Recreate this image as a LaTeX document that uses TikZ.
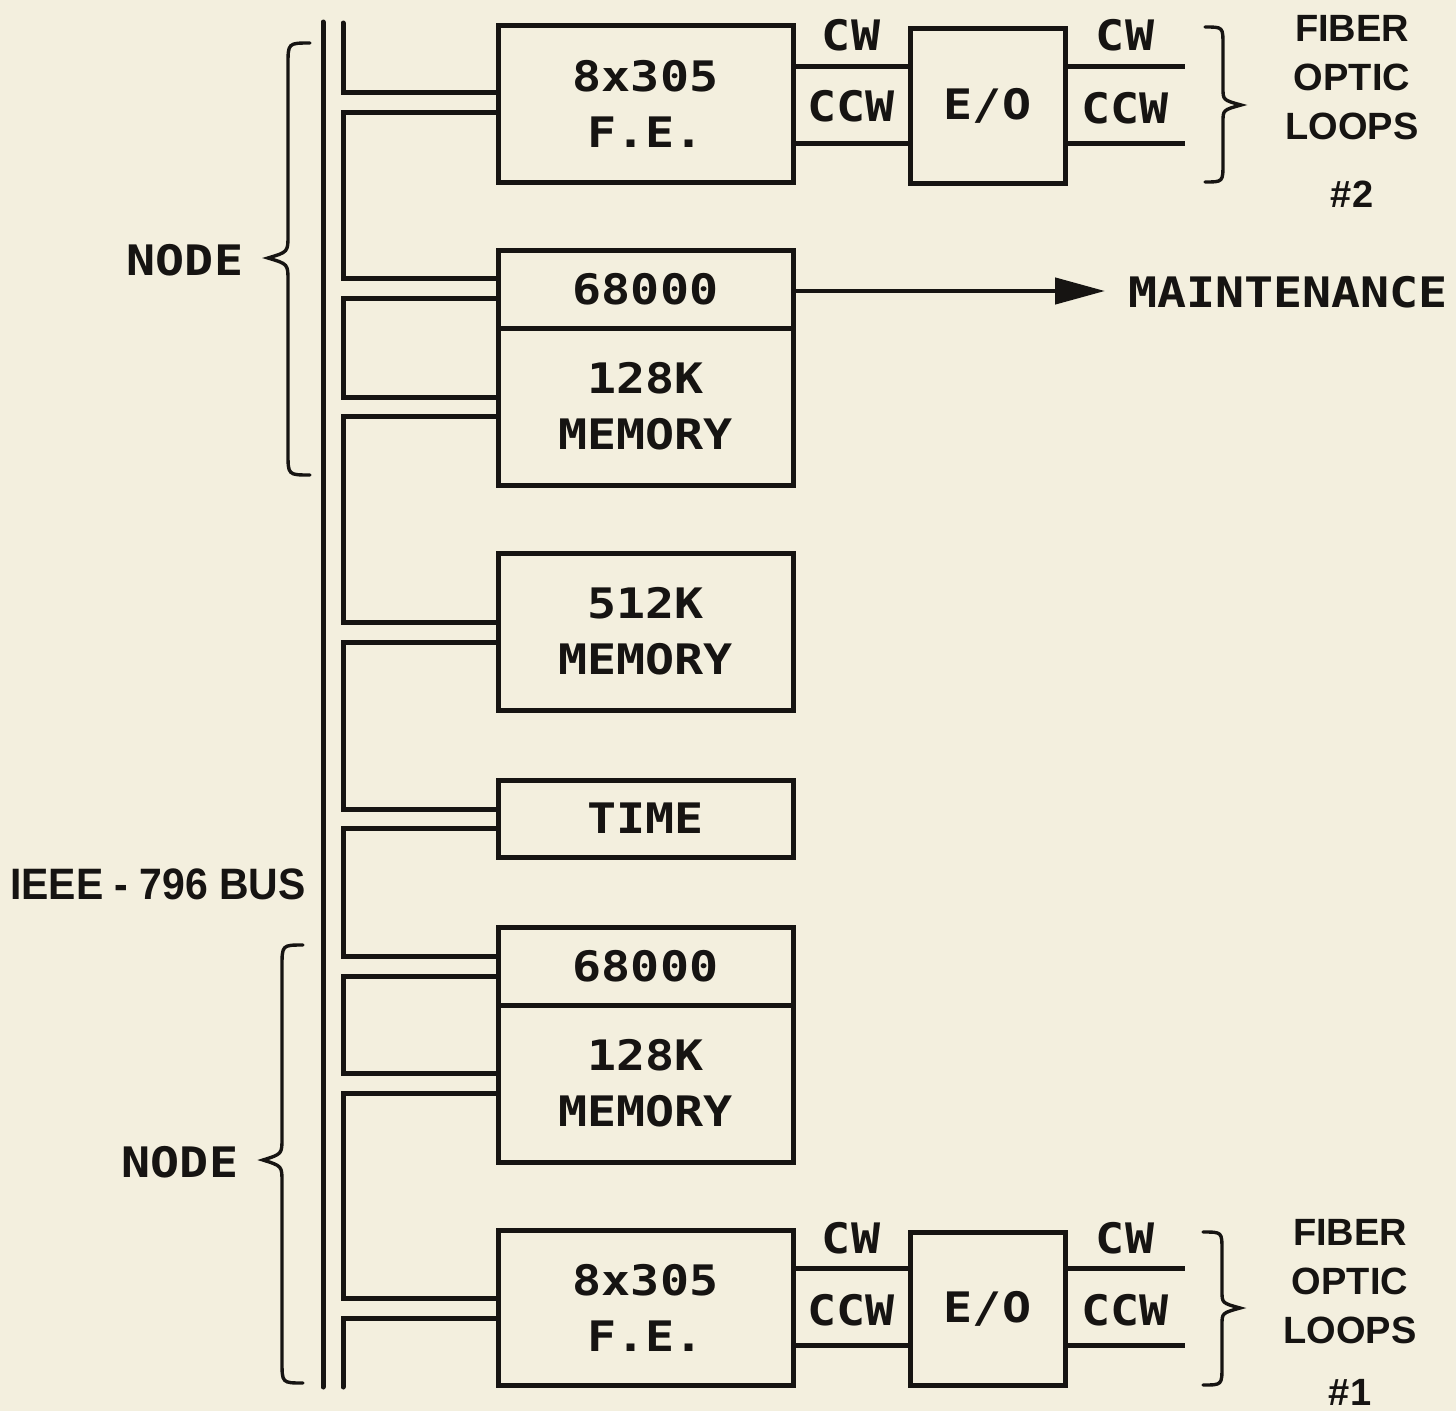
\documentclass[tikz,border=0pt]{standalone}
\usepackage{fontspec}
\setmainfont{Liberation Sans}
\newfontfamily\monof{DejaVu Sans Mono}[FakeStretch=1.15]
\usetikzlibrary{arrows.meta}
\definecolor{paper}{RGB}{243,239,222}
\definecolor{ink}{RGB}{22,20,18}
\newcommand\dfont{\monof\fontsize{42}{56}\selectfont\bfseries}
\newcommand\sfontx{\fontsize{38}{49}\selectfont\bfseries}
\begin{document}
\begin{tikzpicture}[x=1pt,y=-1pt,
  box/.style={draw=ink, line width=5pt, minimum width=295pt, inner sep=0pt, align=center, font=\dfont, text=ink},
  wire/.style={draw=ink, line width=5pt},
  brc/.style={draw=ink, line width=3.4pt, line cap=round},
  lbl/.style={text=ink, font=\dfont, inner sep=0pt, align=center},
  slbl/.style={text=ink, font=\sfontx, inner sep=0pt, align=center}]
\fill[paper] (0,0) rectangle (1456,1411);
\useasboundingbox (0,0) rectangle (1456,1411);

% boxes
\node[box, minimum height=157pt] (fe2) at (645.5,103.5) {8x305\\F.E.};
\node[box, minimum height=78pt] (cpu2) at (645.5,289) {68000};
\node[box, minimum height=157pt] (mem2) at (645.5,406.5) {128K\\MEMORY};
\node[box, minimum height=157pt] (m512) at (645.5,631.5) {512K\\MEMORY};
\node[box, minimum height=77pt] (time) at (645.5,818.5) {TIME};
\node[box, minimum height=78pt] (cpu1) at (645.5,966) {68000};
\node[box, minimum height=157pt] (mem1) at (645.5,1083.5) {128K\\MEMORY};
\node[box, minimum height=155pt] (fe1) at (645.5,1307.5) {8x305\\F.E.};
\node[box, minimum width=155pt, minimum height=155pt] (eo2) at (987.5,105.5) {E/O};
\node[box, minimum width=155pt, minimum height=153pt] (eo1) at (987.5,1308.5) {E/O};

% bus
\coordinate (busT) at (323,22);
\coordinate (busB) at (323,1387);
\draw[wire, line cap=round] (busT) -- (busB);
\coordinate (combT) at (343,23);
\coordinate (combB) at (343,1387);
\draw[wire, line cap=round] (combT) |- (fe2.west |- 0,92);
\foreach \p/\a/\q/\b in {fe2/112/cpu2/278, cpu2/298/mem2/397, mem2/416/m512/622, m512/642/time/809, time/828/cpu1/956, cpu1/976/mem1/1073, mem1/1093/fe1/1298}
  \draw[wire] (\p.west |- 0,\a) -| (343,\b) -- (\q.west |- 0,\b);
\draw[wire, line cap=round] (fe1.west |- 0,1318) -| (combB);

% fiber links top
\coordinate (t2a) at (1185,66);
\coordinate (t2b) at (1185,143);
\draw[wire] (fe2.east |- t2a) -- (eo2.west |- t2a);
\draw[wire] (fe2.east |- t2b) -- (eo2.west |- t2b);
\draw[wire] (eo2.east |- t2a) -- (t2a);
\draw[wire] (eo2.east |- t2b) -- (t2b);
\node[lbl] (cwl2) at (851,35) {CW};
\node[lbl] (ccwl2) at (851,106) {CCW};
\node[lbl] (cwr2) at (1125,35) {CW};
\node[lbl] (ccwr2) at (1125,108) {CCW};

% fiber links bottom
\coordinate (t1a) at (1185,1268);
\coordinate (t1b) at (1185,1345);
\draw[wire] (fe1.east |- t1a) -- (eo1.west |- t1a);
\draw[wire] (fe1.east |- t1b) -- (eo1.west |- t1b);
\draw[wire] (eo1.east |- t1a) -- (t1a);
\draw[wire] (eo1.east |- t1b) -- (t1b);
\node[lbl] (cwl1) at (851,1238) {CW};
\node[lbl] (ccwl1) at (851,1310) {CCW};
\node[lbl] (cwr1) at (1125,1238) {CW};
\node[lbl] (ccwr1) at (1125,1310) {CCW};

% right braces
\draw[brc] (1205,27) .. controls (1223,27) .. (1223,45) -- (1223,88) .. controls (1223,100) .. (1241,105) .. controls (1223,110) .. (1223,122) -- (1223,163) .. controls (1223,182) .. (1205,182);
\draw[brc] (1203,1232) .. controls (1222,1232) .. (1222,1250) -- (1222,1291) .. controls (1222,1303) .. (1240,1308) .. controls (1222,1313) .. (1222,1325) -- (1222,1366) .. controls (1222,1385) .. (1203,1385);
\node[slbl] (fol2) at (1352,78) {FIBER\\OPTIC\\LOOPS};
\node[slbl] (n2) at (1352,194) {\#2};
\node[slbl] (fol1) at (1350,1282) {FIBER\\OPTIC\\LOOPS};
\node[slbl] (n1) at (1350,1392) {\#1};

% left braces
\draw[brc] (310,43) .. controls (288,43) .. (288,65) -- (288,235) .. controls (288,252) .. (268,258) .. controls (288,264) .. (288,281) -- (288,453) .. controls (288,475) .. (310,475);
\draw[brc] (303,945) .. controls (282,945) .. (282,967) -- (282,1138) .. controls (282,1154) .. (263,1160) .. controls (282,1166) .. (282,1182) -- (282,1361) .. controls (282,1383) .. (303,1383);
\node[lbl] (node2) at (185,260) {NODE};
\node[lbl] (node1) at (180,1162) {NODE};
\node[slbl, anchor=east, font=\fontsize{44}{50}\selectfont\bfseries] (bus) at (306,884) {\scalebox{0.93}[1]{IEEE - 796 BUS}};

% maintenance
\coordinate (mt) at (1105,291);
\draw[wire, line width=4.5pt, -{Triangle[length=50pt,width=26pt]}] (cpu2.east |- mt) -- (mt);
\node[lbl, anchor=west] (maint) at (1128,292) {MAINTENANCE};
\end{tikzpicture}
\end{document}
